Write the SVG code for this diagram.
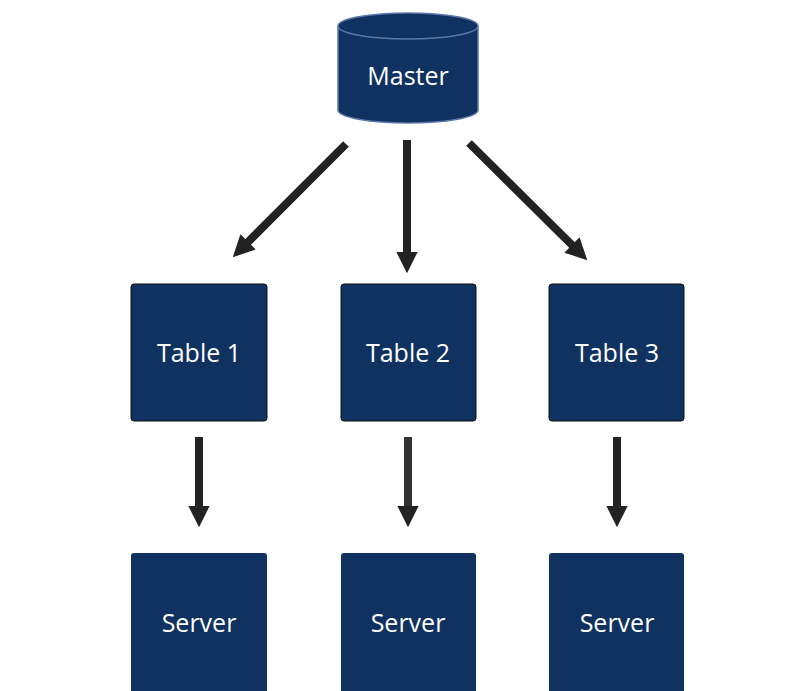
<svg xmlns="http://www.w3.org/2000/svg" width="812" height="691" viewBox="0 0 812 691">
<style>
.box{fill:#0f3260;stroke:#111;stroke-width:1}
.lbl{fill:#fff;font-family:"Open Sans","Noto Sans",sans-serif;font-size:25px;text-anchor:middle}
.con{stroke:#222;stroke-width:8;fill:none}
</style>
<defs>
<marker id="ah" viewBox="0 0 10 10" refX="2" refY="5" markerWidth="2.7" markerHeight="2.7" markerUnits="strokeWidth" orient="auto">
<path d="M0,0 L10,5 L0,10 z" fill="#222"/>
</marker>
</defs>
<rect width="812" height="691" fill="#fff"/>
<g id="connectors">
<line class="con" x1="346" y1="144" x2="245" y2="245" marker-end="url(#ah)"/>
<line class="con" x1="407" y1="140" x2="407" y2="256" marker-end="url(#ah)"/>
<line class="con" x1="469" y1="143" x2="575" y2="248" marker-end="url(#ah)"/>
<line class="con" x1="199" y1="437" x2="199" y2="510" marker-end="url(#ah)"/>
<line class="con" x1="408" y1="437" x2="408" y2="510" marker-end="url(#ah)" style="stroke:#333"/>
<line class="con" x1="617" y1="437" x2="617" y2="510" marker-end="url(#ah)"/>
</g>
<g id="master">
<path d="M338,26 L338,110 A70,13 0 0 0 478,110 L478,26" fill="#0f3260" stroke="#5b78aa" stroke-width="1.5"/>
<ellipse cx="408" cy="26" rx="70" ry="13" fill="#0f3260" stroke="#5b78aa" stroke-width="1.5"/>
<text class="lbl" x="408" y="85">Master</text>
</g>
<g id="table1"><rect class="box" x="131" y="284" width="136" height="137" rx="3"/><text class="lbl" x="199" y="362">Table 1</text></g>
<g id="table2"><rect class="box" x="341" y="284" width="135" height="137" rx="3"/><text class="lbl" x="408" y="362">Table 2</text></g>
<g id="table3"><rect class="box" x="549" y="284" width="135" height="137" rx="3"/><text class="lbl" x="617" y="362">Table 3</text></g>
<g id="server1"><rect class="box" x="131" y="553" width="136" height="140" rx="3" style="stroke:none"/><text class="lbl" x="199" y="632">Server</text></g>
<g id="server2"><rect class="box" x="341" y="553" width="135" height="140" rx="3" style="stroke:none"/><text class="lbl" x="408" y="632">Server</text></g>
<g id="server3"><rect class="box" x="549" y="553" width="135" height="140" rx="3" style="stroke:none"/><text class="lbl" x="617" y="632">Server</text></g>
</svg>
